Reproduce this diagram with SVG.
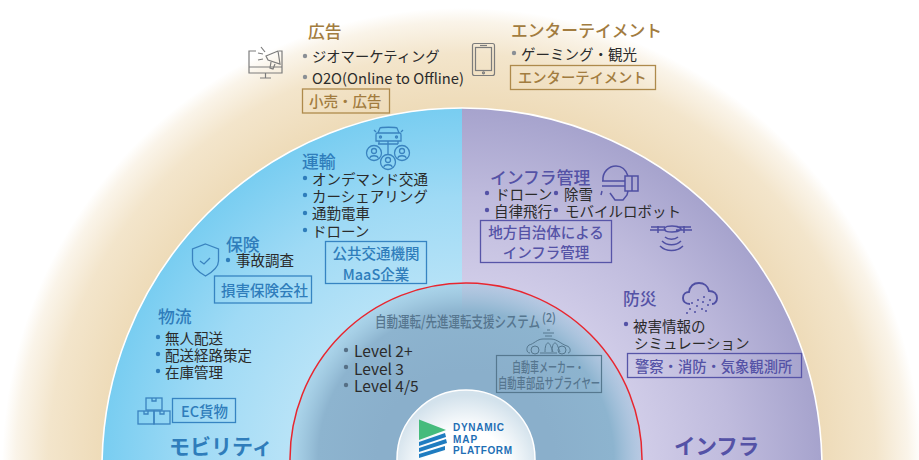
<svg xmlns="http://www.w3.org/2000/svg" width="919" height="460" viewBox="0 0 919 460">
<defs>
<radialGradient id="tan" gradientUnits="userSpaceOnUse" cx="462" cy="468" r="460">
<stop offset="0.78" stop-color="#eedbb8"/><stop offset="0.9" stop-color="#f3e5cb"/><stop offset="0.97" stop-color="#faf4e9"/><stop offset="1" stop-color="#ffffff"/>
</radialGradient>
<radialGradient id="blue" gradientUnits="userSpaceOnUse" cx="462" cy="468" r="360">
<stop offset="0.48" stop-color="#b8e3f7"/><stop offset="0.75" stop-color="#9fdaf5"/><stop offset="1" stop-color="#78cdf1"/>
</radialGradient>
<radialGradient id="lav" gradientUnits="userSpaceOnUse" cx="462" cy="468" r="360">
<stop offset="0.48" stop-color="#d2cee9"/><stop offset="0.75" stop-color="#bfbbdd"/><stop offset="1" stop-color="#a6a3cd"/>
</radialGradient>
<radialGradient id="core" gradientUnits="userSpaceOnUse" cx="466" cy="459" r="176">
<stop offset="0.5" stop-color="#8aafcb"/><stop offset="0.84" stop-color="#8db4cf"/><stop offset="1" stop-color="#9cc4dc" stop-opacity="0.45"/>
</radialGradient>
<radialGradient id="hub" gradientUnits="userSpaceOnUse" cx="466" cy="470" r="75">
<stop offset="0.55" stop-color="#ffffff"/><stop offset="1" stop-color="#d3e2ec"/>
</radialGradient>
</defs>
<style>
text{font-family:"Noto Sans CJK JP","Noto Sans",sans-serif;font-size:14.5px;fill:#2b2b2b}
.h{font-size:16.800px;font-weight:500}
.big{font-size:21px;font-weight:700}
.tan{fill:#a27c3f}.blu{fill:#2f7dbb}.pur{fill:#5452a6}
.lb{font-size:14.500px;font-weight:500}
.tanb{fill:none;stroke:#ae8a4c;stroke-width:1.3}
.blub{fill:none;stroke:#3684c2;stroke-width:1.3}
.purb{fill:none;stroke:#5755a8;stroke-width:1.3}
.gryb{fill:none;stroke:#56788f;stroke-width:1.2}
.ig{fill:none;stroke:#7c7c7c;stroke-width:1.2}
.ib{fill:none;stroke:#3a83bf;stroke-width:1.3}
.ip{fill:none;stroke:#4f4fa3;stroke-width:1.5}
.dg{fill:#8a8f95}.db{fill:#2f7dbb}.dp{fill:#5452a6}.dc{fill:#566f85}
.c{text-anchor:middle}
.core{fill:#56768f;font-weight:500}
.logo{font-size:10px;font-weight:700;fill:#1f6fb5;letter-spacing:1px;font-family:"Liberation Sans",sans-serif}
</style>

<g id="background">
<rect width="919" height="460" fill="#ffffff"/>
<circle cx="462" cy="468" r="460" fill="url(#tan)"/>
<path d="M462 108A360 360 0 0 0 102 468H462Z" fill="url(#blue)"/>
<path d="M462 108A360 360 0 0 1 822 468H462Z" fill="url(#lav)"/>
<circle cx="462" cy="468" r="360" fill="none" stroke="#ffffff" stroke-width="1.6"/>
<circle cx="466" cy="459" r="176" fill="url(#core)"/>
<circle cx="466" cy="459" r="176" fill="none" stroke="#e8262f" stroke-width="1.5"/>
</g>

<g id="advertising">
<text class="h tan" x="308" y="38">広告</text>
<circle class="dg" cx="305" cy="56" r="2.200"/><text x="312" y="62" style="font-size:14.300px">ジオマーケティング</text>
<circle class="dg" cx="305" cy="77" r="2.200"/><text x="312" y="84" textLength="152" lengthAdjust="spacingAndGlyphs">O2O(Online to Offline)</text>
<rect class="tanb" x="302.500" y="89" width="87" height="24"/>
<text class="lb tan" x="309" y="107">小売・広告</text>
<g class="ig"><path d="M256 51h-7v22h33v-22h-3M249 67h33M260 78h11M265.500 73v5"/><path d="M261 47l4 5M258 53l5 1M258 60l5-1M266 56l12-5 2 13-12-4zM271 62l-1 6 3 1 2-5"/></g>
</g>

<g id="entertainment">
<text class="h tan" x="511" y="37">エンターテイメント</text>
<circle class="dg" cx="514" cy="53" r="2.200"/><text x="521" y="60">ゲーミング・観光</text>
<rect class="tanb" x="510.500" y="65.500" width="145" height="24"/>
<text class="lb tan" x="518" y="83" style="font-size:14.300px">エンターテイメント</text>
<g class="ig"><rect x="472.500" y="43.500" width="22" height="32" rx="2"/><rect x="475.500" y="47.500" width="16" height="23"/><path d="M480 45.500h7"/><circle cx="483.500" cy="72.800" r="1"/></g>
</g>

<g id="transport">
<text class="h blu" x="302" y="168">運輸</text>
<circle class="db" cx="305" cy="178" r="2.200"/><text x="312" y="185">オンデマンド交通</text>
<circle class="db" cx="305" cy="195" r="2.200"/><text x="312" y="202">カーシェアリング</text>
<circle class="db" cx="305" cy="213" r="2.200"/><text x="312" y="219">通勤電車</text>
<circle class="db" cx="305" cy="230" r="2.200"/><text x="312" y="237">ドローン</text>
<rect class="blub" x="325.500" y="241.500" width="101" height="42"/>
<text class="lb blu c" x="376" y="259">公共交通機関</text>
<text class="lb blu c" x="376" y="280">MaaS企業</text>
<g class="ib"><path d="M378 133l2-5c1-1 16-1 17 0l2 5M377 133h23c1 0 1 1 1 2v6h-25v-6c0-1 0-2 1-2zM376 132l-2-2M401 132l2-2M379 141v3M398 141v3M388 141v14M378 144h20"/><circle cx="380.500" cy="137" r="1"/><circle cx="396.500" cy="137" r="1"/><circle cx="374" cy="153" r="7.500"/><circle cx="402" cy="153" r="7.500"/><circle cx="388" cy="162" r="7.500"/><path d="M370 158c0-3 8-3 8 0M398 158c0-3 8-3 8 0M384 167c0-3 8-3 8 0"/><circle cx="374" cy="151" r="2.500"/><circle cx="402" cy="151" r="2.500"/><circle cx="388" cy="160" r="2.500"/></g>
</g>

<g id="insurance">
<text class="h blu" x="226" y="251">保険</text>
<circle class="db" cx="228" cy="260" r="2.200"/><text x="236" y="266">事故調査</text>
<rect class="blub" x="214.500" y="276" width="97" height="27"/>
<text class="lb blu" x="221" y="296">損害保険会社</text>
<g class="ib"><path d="M205.500 244l13 5v12c0 6-6 11-13 15-7-4-13-9-13-15v-12zM200 261l4 3 6-6"/></g>
</g>

<g id="logistics">
<text class="h blu" x="158" y="323">物流</text>
<circle class="db" cx="158" cy="337" r="2.200"/><text x="165" y="344">無人配送</text>
<circle class="db" cx="158" cy="354" r="2.200"/><text x="165" y="361">配送経路策定</text>
<circle class="db" cx="158" cy="371" r="2.200"/><text x="165" y="378">在庫管理</text>
<rect class="blub" x="172.500" y="398.500" width="63" height="24"/>
<text class="lb blu" x="181" y="417">EC貨物</text>
<g class="ib"><rect x="146" y="398" width="16" height="12"/><rect x="138" y="411" width="16" height="13"/><rect x="154" y="411" width="16" height="13"/><path d="M152 398v3h4v-3M144 411v3h4v-3M160 411v3h4v-3"/></g>
<text class="big blu" x="169" y="454">モビリティ</text>
</g>

<g id="infra-management">
<text class="h pur" x="490" y="184">インフラ管理</text>
<circle class="dp" cx="487" cy="193" r="2.200"/><text x="495" y="200">ドローン</text>
<circle class="dp" cx="556" cy="193" r="2.200"/><text x="564" y="200">除雪</text>
<circle class="dp" cx="487" cy="210" r="2.200"/><text x="494" y="217">自律飛行</text>
<circle class="dp" cx="556" cy="210" r="2.200"/><text x="565" y="217">モバイルロボット</text>
<rect class="purb" x="480.500" y="220.500" width="131" height="42"/>
<text class="lb pur c" x="546" y="238">地方自治体による</text>
<text class="lb pur c" x="546" y="258">インフラ管理</text>
<g class="ip"><path d="M603 181c-1-9 6-15 13-15 6 0 10 4 12 10M602 181h23M602 186h23M625 176h13v15h-13zM632 176v15M628 191l-1 4-4 5h-8l-5-7M602 191l-1 4"/></g>
<g class="ip"><path d="M651 227h14M650 230h16M677 227h14M676 230h16M664 229c2-3 4-3 8-3s7 0 9 3c-2 3-5 3-9 3s-6 0-8-3M658 226v7M684 226v7M665 237c3 3 10 3 13 0M662 241c5 5 14 5 19 0M660 246c6 6 17 6 23 0"/></g>
</g>

<g id="disaster">
<text class="h pur" x="623" y="305">防災</text>
<circle class="dp" cx="626" cy="324" r="2.200"/><text x="633" y="332">被害情報の</text>
<text x="634" y="349">シミュレーション</text>
<rect class="purb" x="627.500" y="353.500" width="174" height="24"/>
<text class="lb pur" x="635" y="372" style="font-size:14.300px">警察・消防・気象観測所</text>
<g class="ip" style="stroke-width:1.900"><path d="M690 304c-5 0-7-3-7-6 0-4 3-6 6-6 1-6 5-9 10-9s9 3 10 8c5 0 8 3 8 7 0 3-2 6-5 6"/></g>
<g fill="#4f4fa3"><circle cx="704" cy="297" r="1"/><circle cx="698" cy="300" r="1"/><circle cx="692" cy="303" r="1"/><circle cx="703" cy="302" r="1"/><circle cx="710" cy="300" r="1"/><circle cx="697" cy="306" r="1"/><circle cx="708" cy="305" r="1"/><circle cx="690" cy="309" r="1"/><circle cx="702" cy="309" r="1"/><circle cx="695" cy="312" r="1"/><circle cx="706" cy="311" r="1"/><circle cx="687" cy="313" r="1"/></g>
<text class="big pur" x="674" y="454" style="font-size:21.500px">インフラ</text>
</g>

<g id="automated-driving">
<text class="core" x="375" y="327" textLength="165" lengthAdjust="spacingAndGlyphs" style="font-size:15px">自動運転/先進運転支援システム</text>
<text class="core" x="542" y="322" textLength="14" lengthAdjust="spacingAndGlyphs" style="font-size:12.500px">(2)</text>
<circle class="dc" cx="346" cy="350" r="2.200"/><text x="354" y="357" style="font-size:15.500px">Level 2+</text>
<circle class="dc" cx="346" cy="367" r="2.200"/><text x="354" y="375" style="font-size:15.500px">Level 3</text>
<circle class="dc" cx="346" cy="385" r="2.200"/><text x="354" y="392" style="font-size:15.500px">Level 4/5</text>
<rect class="gryb" x="496.500" y="355.500" width="105" height="37"/>
<text class="core c" x="548" y="372" textLength="72" lengthAdjust="spacingAndGlyphs" style="font-size:13.500px">自動車メーカー・</text>
<text class="core" x="498" y="388" textLength="102" lengthAdjust="spacingAndGlyphs" style="font-size:13.500px">自動車部品サプライヤー</text>
<g fill="none" stroke="#56788f" stroke-width="1"><path d="M530 353c-4 0-4-6-1-8 5-1 8-6 14-6h8c6 0 10 5 16 7 4 1 4 7 1 7M540 353h17M543 333h11M545 336h7M547 330h3"/><circle cx="535" cy="350" r="4"/><circle cx="562" cy="350" r="4"/><path d="M545 352c0-5 1-9 3-9s3 4 5 9M552 352c0-5 1-9 3-9s3 4 5 9"/></g>
</g>

<g id="dmp-logo">
<circle cx="466" cy="459" r="69" fill="url(#hub)" stroke="#ffffff" stroke-width="1.500"/>
<path d="M419 419.500L446 430 419 440Z" fill="#45bb7c"/>
<path d="M419 442l26-9 1 4-27 9zM419 448l27-9 1 4-28 9zM419 454l26-8 0 4-26 8z" fill="#1f7cc0"/>
<text class="logo" x="453" y="431" textLength="52">DYNAMIC</text>
<text class="logo" x="453" y="443">MAP</text>
<text class="logo" x="453" y="454" textLength="60">PLATFORM</text>
</g>
</svg>
